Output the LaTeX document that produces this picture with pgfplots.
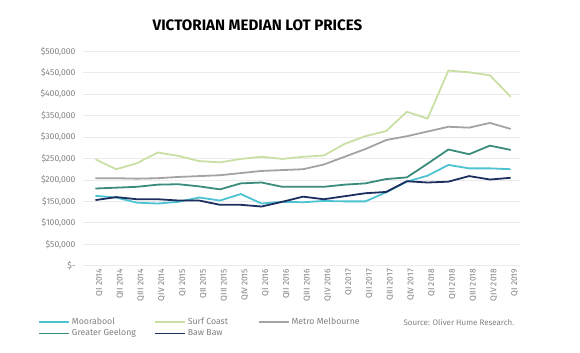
\documentclass[border=0pt]{standalone}
\usepackage{fontspec}
\setmainfont{Fira Sans}
\usepackage{pgfplots}
\pgfplotsset{compat=1.18}
\definecolor{moorc}{HTML}{4DC3D1}
\definecolor{surfc}{HTML}{C9E0A5}
\definecolor{metroc}{HTML}{A3A3A3}
\definecolor{geelc}{HTML}{3B8C7C}
\definecolor{bawc}{HTML}{1C2F5F}
\definecolor{lbl}{HTML}{808080}
\definecolor{gridc}{HTML}{EBEBEB}
\begin{document}
\begin{tikzpicture}[x=1bp,y=1bp]
\useasboundingbox (0,0) rectangle (580,352);
\node[font=\bfseries\fontsize{15.2}{17}\selectfont] at (257.5,327) {VICTORIAN MEDIAN LOT PRICES};
\begin{axis}[at={(83bp,86.3bp)}, anchor=south west, scale only axis,
  width=437bp, height=214.4bp,
  xmin=-0.6, xmax=20.45, ymin=0, ymax=500,
  axis line style={draw=none}, tick style={draw=none},
  ymajorgrids, grid style={color=gridc, line width=0.8bp},
  xtick={0,...,20},
  xticklabels={QI 2014,QII 2014,QIII 2014,QIV 2014,QI 2015,QII 2015,QIII 2015,QIV 2015,QI 2016,QII 2016,QIII 2016,QIV 2016,QI 2017,QII 2017,QIII 2017,QIV 2017,QI 2018,QII 2018,QIII 2018,QIV 2018,QI 2019},
  ytick={0,50,...,500},
  yticklabels={{\$-},{\$50,000},{\$100,000},{\$150,000},{\$200,000},{\$250,000},{\$300,000},{\$350,000},{\$400,000},{\$450,000},{\$500,000}},
  yticklabel style={font=\fontsize{8.6}{10}\selectfont, text=lbl, anchor=east, xshift=-4bp},
  xticklabel style={font=\fontsize{8.4}{10}\selectfont, text=lbl, rotate=90, anchor=east, yshift=-4bp},
  legend columns=3,
  legend cell align=left,
  legend style={draw=none, fill=none, at={(-0.103,-0.29)}, anchor=west, inner sep=0pt,
    font=\fontsize{8.8}{10}\selectfont, text=lbl, row sep=-1bp},
  legend image code/.code={\draw[#1, line width=1.8bp] (0bp,0bp) -- (30bp,0bp);},
  every axis plot/.append style={line width=1.8bp, no marks, line join=round},
]
\addplot[moorc] coordinates {(0,163)(1,159)(2,147)(3,145)(4,149)(5,159)(6,152)(7,167)(8,145)(9,149)(10,148)(11,151)(12,150)(13,150)(14,171)(15,196)(16,210)(17,235)(18,227)(19,227)(20,225)};
\addlegendentry{\makebox[80bp][l]{Moorabool}}
\addplot[surfc] coordinates {(0,248)(1,225)(2,239)(3,264)(4,256)(5,244)(6,241)(7,249)(8,254)(9,249)(10,254)(11,257)(12,284)(13,302)(14,314)(15,359)(16,343)(17,455)(18,451)(19,444)(20,394)};
\addlegendentry{\makebox[68bp][l]{Surf Coast}}
\addplot[metroc] coordinates {(0,204)(1,204)(2,203)(3,204)(4,207)(5,209)(6,211)(7,216)(8,221)(9,223)(10,225)(11,236)(12,254)(13,272)(14,293)(15,302)(16,313)(17,324)(18,322)(19,333)(20,319)};
\addlegendentry{Metro Melbourne}
\addplot[geelc] coordinates {(0,180)(1,182)(2,184)(3,189)(4,190)(5,185)(6,178)(7,192)(8,194)(9,184)(10,184)(11,184)(12,189)(13,192)(14,202)(15,206)(16,238)(17,271)(18,260)(19,280)(20,270)};
\addlegendentry{\makebox[80bp][l]{Greater Geelong}}
\addplot[bawc] coordinates {(0,153)(1,160)(2,155)(3,155)(4,152)(5,152)(6,142)(7,142)(8,138)(9,149)(10,161)(11,155)(12,162)(13,169)(14,172)(15,197)(16,194)(17,196)(18,209)(19,201)(20,205)};
\addlegendentry{\makebox[68bp][l]{Baw Baw}}
\end{axis}
\node[anchor=west, font=\fontsize{8}{10}\selectfont, text=lbl] at (400,29.3) {Source: Oliver Hume Research.};
\end{tikzpicture}
\end{document}
